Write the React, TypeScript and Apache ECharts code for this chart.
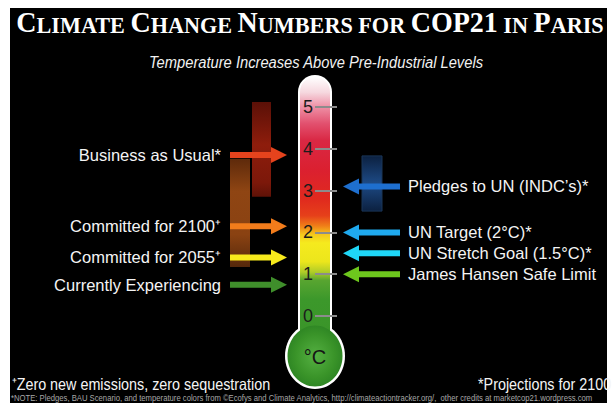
import React, { useEffect, useRef } from 'react';
import * as echarts from 'echarts';

// ---- data ----
const scaleTicks = [0, 1, 2, 3, 4, 5];

const leftLabels = ['Business as Usual*', 'Committed for 2100⁺', 'Committed for 2055⁺', 'Currently Experiencing'];
const leftValues = [3.85, 2.15, 1.4, 0.75];

const rightLabels = ['Pledges to UN (INDC’s)*', 'UN Target (2°C)*', 'UN Stretch Goal (1.5°C)*', 'James Hansen Safe Limit'];
const rightValues = [3.1, 2.0, 1.5, 1.0];

const rangeNames = ['Business as Usual range', 'Committed range', 'Pledges range'];
const rangeLow = [2.85, 1.17, 2.51];
const rangeHigh = [5.12, 3.76, 3.83];

// ---- styles ----
const leftColors = ['#e5431d', '#f27c1b', '#f7ea1c', '#3f8e2b'];
const rightColors = ['#1e6fcf', '#1fa9ee', '#1fd6f7', '#6dc71d'];
const rangeX = [[252, 271], [230, 250], [362, 382]];
const rangeStops = [
  [[0, '#5a1007'], [0.45, '#8e1d0c'], [0.85, '#7c180a'], [1, '#5e1207']],
  [[0, '#5e2a0b'], [0.3, '#8f4513'], [0.7, '#8a4212'], [1, '#55280b']],
  [[0, '#0c2140'], [0.5, '#1d4a85'], [1, '#0c2140']],
];
const tubeStops: [number, string][] = [
  [5.72, '#ffffff'], [5.35, '#f6d8df'], [5.0, '#ee8fa5'], [4.6, '#e2506e'], [4.2, '#d92844'],
  [3.5, '#db2030'], [2.8, '#e02a1e'], [2.4, '#e6401a'], [2.15, '#f08018'], [1.95, '#f5c81c'],
  [1.75, '#f5ea1e'], [1.3, '#ece61c'], [1.05, '#b0cc28'], [0.85, '#58a530'], [0.4, '#3c982b'],
];

const FONT = '"Liberation Sans", Arial, sans-serif';
const PX0 = 316; // pixel of 0 degrees
const UNIT = 41.8;
const GT = PX0 - 7 * UNIT;
const GB = 403 - PX0 - 2 * UNIT;

export default function App() {
  const ref = useRef<HTMLDivElement>(null);
  useEffect(() => {
    const chart = echarts.init(ref.current!, null, { renderer: 'svg' });

    const thermo = (params: any, api: any) => {
      const y0 = api.coord([0, 0])[1];
      const yTop = api.coord([0, 5.72])[1];
      const cx = 315;
      const cy = y0 + 40;
      const tubeBottom = y0 + 22;
      const stops = tubeStops.map(([t, c]) => ({
        offset: Math.min(1, Math.max(0, (api.coord([0, t])[1] - yTop) / (tubeBottom - yTop))),
        color: c,
      }));
      stops.push({ offset: 1, color: '#3a9429' });
      return {
        type: 'group',
        children: [
          { type: 'rect', shape: { x: 298, y: yTop - 2, width: 34, height: tubeBottom - yTop + 2, r: [17, 17, 0, 0] }, style: { fill: '#ffffff' } },
          { type: 'ellipse', shape: { cx, cy, rx: 30, ry: 33 }, style: { fill: '#ffffff' } },
          { type: 'rect', shape: { x: 300, y: yTop, width: 30, height: tubeBottom - yTop, r: [15, 15, 0, 0] },
            style: { fill: new echarts.graphic.LinearGradient(0, 0, 0, 1, stops) } },
          { type: 'ellipse', shape: { cx, cy, rx: 27.5, ry: 30.5 },
            style: { fill: new echarts.graphic.RadialGradient(0.5, 0.5, 0.5, [
              { offset: 0, color: '#55b042' }, { offset: 0.7, color: '#3a9429' }, { offset: 1, color: '#2f8724' }]) } },
          { type: 'text', style: { text: '°C', x: cx, y: cy + 1, textAlign: 'center', textVerticalAlign: 'middle', align: 'center', verticalAlign: 'middle', fill: '#151515', font: '20px ' + FONT } },
        ],
      };
    };

    const ranges = (params: any, api: any) => {
      const i = params.dataIndex;
      const yHi = api.coord([0, api.value(2)])[1];
      const yLo = api.coord([0, api.value(1)])[1];
      const [x1, x2] = rangeX[i];
      return {
        type: 'rect',
        shape: { x: x1, y: yHi, width: x2 - x1, height: yLo - yHi },
        style: {
          fill: new echarts.graphic.LinearGradient(0, 0, 0, 1, rangeStops[i].map(([o, c]) => ({ offset: o as number, color: c as string }))),
          stroke: i === 2 ? '#1a3658' : null,
          lineWidth: 1,
        },
      };
    };

    const arrows = (side: 'left' | 'right') => (params: any, api: any) => {
      const i = params.dataIndex;
      const y = api.coord([0, api.value(1)])[1];
      const sw = 3, hw = 8, head = 16;
      let pts: number[][];
      let text: any;
      if (side === 'left') {
        const tail = 230, tip = 287;
        pts = [[tail, y - sw], [tip - head, y - sw], [tip - head, y - hw], [tip, y], [tip - head, y + hw], [tip - head, y + sw], [tail, y + sw]];
        text = { text: leftLabels[i], x: 221, y, textAlign: 'right', align: 'right' };
      } else {
        const tail = 400, tip = 343;
        pts = [[tail, y - sw], [tip + head, y - sw], [tip + head, y - hw], [tip, y], [tip + head, y + hw], [tip + head, y + sw], [tail, y + sw]];
        text = { text: rightLabels[i], x: 408, y, textAlign: 'left', align: 'left' };
      }
      return {
        type: 'group',
        children: [
          { type: 'polygon', shape: { points: pts }, style: { fill: (side === 'left' ? leftColors : rightColors)[i] } },
          { type: 'text', style: { ...text, textVerticalAlign: 'middle', verticalAlign: 'middle', fill: '#f4f4f4', font: '16.5px ' + FONT } },
        ],
      };
    };

    const baseY = { type: 'value', min: -2, max: 7, interval: 1, position: 'left', splitLine: { show: false }, axisLine: { show: false } };
    const serif = '"Liberation Serif", "DejaVu Serif", serif';

    chart.setOption({
      animation: false,
      backgroundColor: '#ffffff',
      grid: { left: 0, right: 0, top: GT, bottom: GB },
      xAxis: { type: 'value', min: 0, max: 612, show: false },
      yAxis: [
        { ...baseY, offset: -300, z: 10, axisTick: { show: false },
          axisLabel: { inside: true, margin: 3, customValues: scaleTicks, color: '#1c1c1c', fontSize: 18, fontFamily: FONT } },
        { ...baseY, offset: -315, z: 10, axisLabel: { show: false },
          axisTick: { show: true, inside: true, length: 22, customValues: scaleTicks, lineStyle: { color: '#8c8c8c', width: 2 } } },
      ],
      graphic: [
        { type: 'rect', shape: { x: 10, y: 8, width: 597, height: 395 }, style: { fill: '#000000' } },
        { type: 'text', x: 310, y: 37, scaleX: 0.965,
          style: {
            text: '{b|C}{s|LIMATE }{b|C}{s|HANGE }{b|N}{s|UMBERS FOR }{b|COP21}{s| IN }{b|P}{s|ARIS}',
            textAlign: 'center', textVerticalAlign: 'bottom', align: 'center', verticalAlign: 'bottom',
            rich: {
              b: { fontSize: 29, fontFamily: serif, fontWeight: 'bold', fill: '#ffffff', color: '#ffffff', verticalAlign: 'bottom', lineHeight: 29 },
              s: { fontSize: 23, fontFamily: serif, fontWeight: 'bold', fill: '#ffffff', color: '#ffffff', verticalAlign: 'bottom', lineHeight: 29 },
            },
          } },
        { type: 'text', x: 316, y: 62, scaleX: 0.92,
          style: { text: 'Temperature Increases Above Pre-Industrial Levels', textAlign: 'center', textVerticalAlign: 'middle', align: 'center', verticalAlign: 'middle',
            fill: '#f2f2f2', font: 'italic 16px ' + FONT } },
        { type: 'text', x: 12, y: 384, scaleX: 0.87,
          style: { text: '⁺Zero new emissions, zero sequestration', textVerticalAlign: 'middle', verticalAlign: 'middle', fill: '#f4f4f4', font: '16.5px ' + FONT } },
        { type: 'text', x: 478, y: 384, scaleX: 0.87,
          style: { text: '*Projections for 2100', textVerticalAlign: 'middle', verticalAlign: 'middle', fill: '#f4f4f4', font: '16.5px ' + FONT } },
        { type: 'text', x: 11, y: 398, scaleX: 0.94,
          style: { text: '*NOTE: Pledges, BAU Scenario, and temperature colors from ©Ecofys and Climate Analytics, http://climateactiontracker.org/,  other credits at marketcop21.wordpress.com',
            textVerticalAlign: 'middle', verticalAlign: 'middle', fill: '#a8a8a8', font: '8.2px ' + FONT } },
      ],
      series: [
        { type: 'custom', name: 'Thermometer', renderItem: thermo, data: [[0, 0]], silent: true },
        { type: 'custom', name: 'Ranges', renderItem: ranges,
          data: rangeNames.map((n, i) => ({ name: n, value: [0, rangeLow[i], rangeHigh[i]] })) },
        { type: 'custom', name: 'Left', renderItem: arrows('left'),
          data: leftValues.map((v, i) => ({ name: leftLabels[i], value: [0, v] })) },
        { type: 'custom', name: 'Right', renderItem: arrows('right'),
          data: rightValues.map((v, i) => ({ name: rightLabels[i], value: [0, v] })) },
      ],
    });
    return () => chart.dispose();
  }, []);
  return <div ref={ref} style={{ position: 'absolute', left: 0, top: 0, width: 612, height: 403 }} />;
}
